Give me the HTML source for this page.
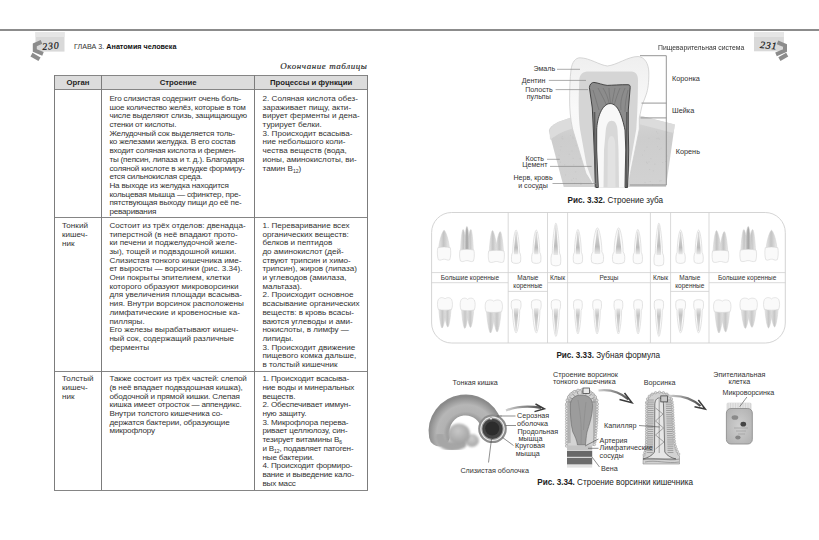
<!DOCTYPE html>
<html><head><meta charset="utf-8"><style>
html,body{margin:0;padding:0;background:#fff;}
body{width:819px;height:540px;position:relative;overflow:hidden;font-family:"Liberation Sans",sans-serif;}
.tb{position:absolute;white-space:nowrap;}
.tb sub{font-size:62%;vertical-align:-1.8px;line-height:0}
.t{position:absolute;white-space:nowrap;line-height:1}
.hd{position:absolute;text-align:center;font-weight:bold;font-size:7.75px;color:#1e1e1e;padding-top:1px;box-sizing:border-box}
</style></head><body>
<div style="position:absolute;left:54.5px;top:75.2px;width:313.0px;height:14.200000000000003px;background:#dcdcdc"></div>
<div style="position:absolute;left:53.90px;top:74.65px;width:314.20px;height:1.1px;background:#858585"></div>
<div style="position:absolute;left:53.90px;top:88.85px;width:314.20px;height:1.1px;background:#858585"></div>
<div style="position:absolute;left:53.90px;top:216.95px;width:314.20px;height:1.1px;background:#858585"></div>
<div style="position:absolute;left:53.90px;top:370.65px;width:314.20px;height:1.1px;background:#858585"></div>
<div style="position:absolute;left:53.90px;top:489.95px;width:314.20px;height:1.1px;background:#858585"></div>
<div style="position:absolute;left:53.95px;top:75.20px;width:1.1px;height:415.30px;background:#7c7c7c"></div>
<div style="position:absolute;left:100.95px;top:75.20px;width:1.1px;height:415.30px;background:#7c7c7c"></div>
<div style="position:absolute;left:254.15px;top:75.20px;width:1.1px;height:415.30px;background:#7c7c7c"></div>
<div style="position:absolute;left:366.95px;top:75.20px;width:1.1px;height:415.30px;background:#7c7c7c"></div>
<div class="hd" style="left:54.5px;width:47.0px;top:75.2px;height:14.200000000000003px;line-height:14.200000000000003px">Орган</div>
<div class="hd" style="left:101.5px;width:153.2px;top:75.2px;height:14.200000000000003px;line-height:14.200000000000003px">Строение</div>
<div class="hd" style="left:254.7px;width:112.80000000000001px;top:75.2px;height:14.200000000000003px;line-height:14.200000000000003px">Процессы и функции</div>
<div class="tb" style="left:109.4px;top:95.05px;font-size:8.1px;line-height:8.68px;color:#333333;letter-spacing:-0.185px;">
<div>Его слизистая содержит очень боль-</div>
<div>шое количество желёз, которые в том</div>
<div>числе выделяют слизь, защищающую</div>
<div>стенки от кислоты.</div>
<div>Желудочный сок выделяется толь-</div>
<div>ко железами желудка. В его состав</div>
<div>входит соляная кислота и фермен-</div>
<div>ты (пепсин, липаза и т. д.). Благодаря</div>
<div>соляной кислоте в желудке формиру-</div>
<div>ется сильнокислая среда.</div>
<div>На выходе из желудка находится</div>
<div>кольцевая мышца — сфинктер, пре-</div>
<div>пятствующая выходу пищи до её пе-</div>
<div>реваривания</div>
</div>
<div class="tb" style="left:262.6px;top:95.05px;font-size:8.1px;line-height:8.68px;color:#333333;letter-spacing:0px;">
<div>2. Соляная кислота обез-</div>
<div>зараживает пищу, акти-</div>
<div>вирует ферменты и дена-</div>
<div>турирует белки.</div>
<div>3. Происходит всасыва-</div>
<div>ние небольшого коли-</div>
<div>чества веществ (вода,</div>
<div>ионы, аминокислоты, ви-</div>
<div>тамин B<sub>12</sub>)</div>
</div>
<div class="tb" style="left:62px;top:222.15px;font-size:8.1px;line-height:8.68px;color:#333333;letter-spacing:0.02px;">
<div>Тонкий</div>
<div>кишеч-</div>
<div>ник</div>
</div>
<div class="tb" style="left:109.4px;top:221.95px;font-size:8.1px;line-height:8.68px;color:#333333;letter-spacing:0px;">
<div>Состоит из трёх отделов: двенадца-</div>
<div>типерстной (в неё впадают прото-</div>
<div>ки печени и поджелудочной желе-</div>
<div>зы), тощей и подвздошной кишки.</div>
<div>Слизистая тонкого кишечника име-</div>
<div>ет выросты — ворсинки (рис. 3.34).</div>
<div>Они покрыты эпителием, клетки</div>
<div>которого образуют микроворсинки</div>
<div>для увеличения площади всасыва-</div>
<div>ния. Внутри ворсинок расположены</div>
<div>лимфатические и кровеносные ка-</div>
<div>пилляры.</div>
<div>Его железы вырабатывают кишеч-</div>
<div>ный сок, содержащий различные</div>
<div>ферменты</div>
</div>
<div class="tb" style="left:262.4px;top:221.95px;font-size:8.1px;line-height:8.68px;color:#333333;letter-spacing:0px;">
<div>1. Переваривание всех</div>
<div>органических веществ:</div>
<div>белков и пептидов</div>
<div>до аминокислот (дей-</div>
<div>ствуют трипсин и химо-</div>
<div>трипсин), жиров (липаза)</div>
<div>и углеводов (амилаза,</div>
<div>мальтаза).</div>
<div>2. Происходит основное</div>
<div>всасывание органических</div>
<div>веществ: в кровь всасы-</div>
<div>ваются углеводы и ами-</div>
<div>нокислоты, в лимфу —</div>
<div>липиды.</div>
<div>3. Происходит движение</div>
<div>пищевого комка дальше,</div>
<div>в толстый кишечник</div>
</div>
<div class="tb" style="left:62px;top:375.35px;font-size:8.1px;line-height:8.68px;color:#333333;letter-spacing:0.02px;">
<div>Толстый</div>
<div>кишеч-</div>
<div>ник</div>
</div>
<div class="tb" style="left:109.5px;top:375.35px;font-size:8.1px;line-height:8.68px;color:#333333;letter-spacing:-0.137px;">
<div>Также состоит из трёх частей: слепой</div>
<div>(в неё впадает подвздошная кишка),</div>
<div>ободочной и прямой кишки. Слепая</div>
<div>кишка имеет отросток — аппендикс.</div>
<div>Внутри толстого кишечника со-</div>
<div>держатся бактерии, образующие</div>
<div>микрофлору</div>
</div>
<div class="tb" style="left:262.4px;top:375.35px;font-size:8.1px;line-height:8.68px;color:#333333;letter-spacing:-0.15px;">
<div>1. Происходит всасыва-</div>
<div>ние воды и минеральных</div>
<div>веществ.</div>
<div>2. Обеспечивает иммун-</div>
<div>ную защиту.</div>
<div>3. Микрофлора перева-</div>
<div>ривает целлюлозу, син-</div>
<div>тезирует витамины B<sub>6</sub></div>
<div>и B<sub>12</sub>, подавляет патоген-</div>
<div>ные бактерии.</div>
<div>4. Происходит формиро-</div>
<div>вание и выведение кало-</div>
<div>вых масс</div>
</div>
<div style="position:absolute;left:0.00px;top:29.00px;width:819.00px;height:2px;background:#8c8c8c"></div>
<div class="t" style="left:74px;top:43px;font-size:7.2px;color:#333">ГЛАВА 3. <b style="color:#111">Анатомия человека</b></div>
<div class="t" style="left:280.3px;top:62.3px;font-size:9px;letter-spacing:0.55px;font-family:'Liberation Serif';font-style:italic;color:#2a2a2a;-webkit-text-stroke:0.15px #2a2a2a">Окончание таблицы</div>
<div class="t" style="left:657.7px;top:43.7px;font-size:7.5px;color:#333;transform:scaleX(0.91);transform-origin:0 0">Пищеварительная система</div>
<svg style="position:absolute;left:0;top:0" width="819" height="540" viewBox="0 0 819 540"><defs>
<linearGradient id="gRoot" x1="0" x2="1" y1="0" y2="0"><stop offset="0" stop-color="#e8e8e8"/><stop offset="0.45" stop-color="#c4c4c4"/><stop offset="0.6" stop-color="#cdcdcd"/><stop offset="1" stop-color="#ececec"/></linearGradient>
<linearGradient id="gRootD" x1="0" x2="1" y1="0" y2="0"><stop offset="0" stop-color="#e2e2e2"/><stop offset="0.5" stop-color="#a4a4a4"/><stop offset="1" stop-color="#dedede"/></linearGradient>
<linearGradient id="gStU" x1="0" x2="0" y1="0" y2="1"><stop offset="0" stop-color="#dedede"/><stop offset="0.7" stop-color="#bcbcbc"/><stop offset="1" stop-color="#e8e8e8"/></linearGradient>
<linearGradient id="gStL" x1="0" x2="0" y1="1" y2="0"><stop offset="0" stop-color="#dedede"/><stop offset="0.7" stop-color="#c2c2c2"/><stop offset="1" stop-color="#e8e8e8"/></linearGradient>
<linearGradient id="gRootL" x1="0" x2="1" y1="0" y2="0"><stop offset="0" stop-color="#e6e6e6"/><stop offset="0.5" stop-color="#c6c6c6"/><stop offset="1" stop-color="#eaeaea"/></linearGradient>
<filter id="fT" x="-50%" y="-20%" width="200%" height="140%"><feGaussianBlur stdDeviation="0.6"/></filter>
</defs>
<rect x="431.6" y="212.5" width="353.7" height="130.5" rx="20" ry="20" fill="#fff" stroke="#cfcfcf" stroke-width="0.9"/>
<path d="M508.2,212.5 V343 M547.5,212.5 V343 M567.6,212.5 V343 M650.4,212.5 V343 M670.6,212.5 V343 M709.0,212.5 V343 M431.6,272.6 H785.3 M431.6,282.7 H508.2 M547.5,282.7 H670.6 M709,282.7 H785.3 M508.2,291.4 H547.5 M670.6,291.4 H709" stroke="#cfcfcf" stroke-width="0.8" fill="none"/>
<path d="M438.6,249.7 C439.1,239.9 442.9,230.2 444.1,230.2 C445.2,230.2 449.0,239.9 449.5,249.7 Z" fill="url(#gRoot)" stroke="#cfcfcf" stroke-width="0.5"/>
<path d="M437.8,247.7 C441.6,246.7 446.6,246.7 450.3,247.7 C451.1,251.7 450.8,256.7 449.8,259.7 C447.8,261.2 445.1,258.7 444.1,259.2 C443.1,258.7 440.3,261.2 438.3,259.7 C437.3,256.7 437.0,251.7 437.8,247.7 Z" fill="#fafafa" stroke="#d2d2d2" stroke-width="0.55"/>
<path d="M460.5,252.1 C461.0,240.8 461.9,229.5 463.1,229.5 C464.3,229.5 466.4,240.8 466.9,252.1 Z" fill="url(#gRoot)" stroke="#cfcfcf" stroke-width="0.5"/>
<path d="M466.9,252.1 C467.4,240.8 469.6,229.5 470.8,229.5 C472.0,229.5 472.9,240.8 473.4,252.1 Z" fill="url(#gRoot)" stroke="#cfcfcf" stroke-width="0.5"/>
<path d="M463.9,252.1 C464.4,239.3 465.8,226.5 466.9,226.5 C468.1,226.5 469.5,239.3 470.0,252.1 Z" fill="url(#gRootD)" stroke="#cfcfcf" stroke-width="0.5"/>
<path d="M460.0,250.1 C464.2,249.1 469.7,249.1 473.9,250.1 C474.7,254.1 474.4,258.1 473.4,261.1 C471.1,262.6 467.9,260.1 466.9,260.6 C465.9,260.1 462.8,262.6 460.5,261.1 C459.5,258.1 459.2,254.1 460.0,250.1 Z" fill="#fafafa" stroke="#d2d2d2" stroke-width="0.55"/>
<path d="M489.2,253.0 C489.7,241.8 491.3,230.6 492.5,230.6 C493.7,230.6 496.6,241.8 497.1,253.0 Z" fill="url(#gRoot)" stroke="#cfcfcf" stroke-width="0.5"/>
<path d="M495.6,253.0 C496.1,242.3 499.0,231.6 500.2,231.6 C501.4,231.6 503.0,242.3 503.5,253.0 Z" fill="url(#gRoot)" stroke="#cfcfcf" stroke-width="0.5"/>
<path d="M488.7,251.0 C493.3,250.0 499.4,250.0 504.0,251.0 C504.8,255.0 504.5,259.0 503.5,262.0 C500.9,263.5 497.4,261.0 496.4,261.5 C495.4,261.0 491.8,263.5 489.2,262.0 C488.2,259.0 487.9,255.0 488.7,251.0 Z" fill="#fafafa" stroke="#d2d2d2" stroke-width="0.55"/>
<path d="M516.1,230.0 C517.3,230.0 519.4,240.2 519.5,252.2 C520.9,254.2 521.1,258.6 520.4,262.1 C518.5,263.9 513.7,263.9 511.8,262.1 C511.1,258.6 511.3,254.2 512.7,252.2 C512.8,240.2 514.9,230.0 516.1,230.0 Z" fill="#fbfbfb" stroke="#d2d2d2" stroke-width="0.6"/>
<path d="M515.6,232.0 L516.6,232.0 C517.5,244.2 518.5,250.2 518.2,254.2 L514.0,254.2 C513.7,250.2 514.7,244.2 515.6,232.0 Z" fill="url(#gStU)" filter="url(#fT)"/>
<path d="M536.3,230.0 C537.5,230.0 539.6,240.2 539.7,252.2 C541.1,254.2 541.3,258.6 540.6,262.1 C538.7,263.9 533.9,263.9 532.0,262.1 C531.3,258.6 531.5,254.2 532.9,252.2 C533.0,240.2 535.1,230.0 536.3,230.0 Z" fill="#fbfbfb" stroke="#d2d2d2" stroke-width="0.6"/>
<path d="M535.8,232.0 L536.8,232.0 C537.7,244.2 538.7,250.2 538.4,254.2 L534.2,254.2 C533.9,250.2 534.9,244.2 535.8,232.0 Z" fill="url(#gStU)" filter="url(#fT)"/>
<path d="M555.9,223.1 C557.1,223.1 559.4,241.0 559.5,253.0 C561.0,255.0 561.1,261.0 560.4,264.5 C558.4,266.3 553.4,266.3 551.4,264.5 C550.6,261.0 550.8,255.0 552.3,253.0 C552.4,241.0 554.6,223.1 555.9,223.1 Z" fill="#fbfbfb" stroke="#d2d2d2" stroke-width="0.6"/>
<path d="M555.4,225.1 L556.4,225.1 C557.4,245.0 558.4,251.0 558.1,255.0 L553.6,255.0 C553.4,251.0 554.4,245.0 555.4,225.1 Z" fill="url(#gStU)" filter="url(#fT)"/>
<path d="M577.9,229.4 C579.1,229.4 581.2,240.2 581.3,252.2 C582.7,254.2 582.9,258.9 582.2,262.4 C580.3,264.2 575.5,264.2 573.6,262.4 C572.9,258.9 573.1,254.2 574.5,252.2 C574.6,240.2 576.7,229.4 577.9,229.4 Z" fill="#fbfbfb" stroke="#d2d2d2" stroke-width="0.6"/>
<path d="M577.4,231.4 L578.4,231.4 C579.3,244.2 580.3,250.2 580.0,254.2 L575.8,254.2 C575.5,250.2 576.5,244.2 577.4,231.4 Z" fill="url(#gStU)" filter="url(#fT)"/>
<path d="M597.4,227.8 C599.0,227.8 601.8,239.9 601.9,251.9 C603.8,253.9 604.0,258.9 603.0,262.4 C600.5,264.2 594.3,264.2 591.8,262.4 C590.8,258.9 591.0,253.9 592.9,251.9 C593.0,239.9 595.8,227.8 597.4,227.8 Z" fill="#fbfbfb" stroke="#d2d2d2" stroke-width="0.6"/>
<path d="M596.9,229.8 L597.9,229.8 C599.3,243.9 600.5,249.9 600.2,253.9 L594.6,253.9 C594.3,249.9 595.5,243.9 596.9,229.8 Z" fill="url(#gStU)" filter="url(#fT)"/>
<path d="M618.6,227.8 C620.2,227.8 623.0,239.9 623.1,251.9 C625.0,253.9 625.2,258.9 624.2,262.4 C621.7,264.2 615.5,264.2 613.0,262.4 C612.0,258.9 612.2,253.9 614.1,251.9 C614.2,239.9 617.0,227.8 618.6,227.8 Z" fill="#fbfbfb" stroke="#d2d2d2" stroke-width="0.6"/>
<path d="M618.1,229.8 L619.1,229.8 C620.5,243.9 621.7,249.9 621.4,253.9 L615.8,253.9 C615.5,249.9 616.7,243.9 618.1,229.8 Z" fill="url(#gStU)" filter="url(#fT)"/>
<path d="M637.8,229.4 C639.0,229.4 641.1,240.2 641.2,252.2 C642.6,254.2 642.8,258.9 642.1,262.4 C640.2,264.2 635.4,264.2 633.5,262.4 C632.8,258.9 633.0,254.2 634.4,252.2 C634.5,240.2 636.6,229.4 637.8,229.4 Z" fill="#fbfbfb" stroke="#d2d2d2" stroke-width="0.6"/>
<path d="M637.3,231.4 L638.3,231.4 C639.2,244.2 640.2,250.2 639.9,254.2 L635.7,254.2 C635.4,250.2 636.4,244.2 637.3,231.4 Z" fill="url(#gStU)" filter="url(#fT)"/>
<path d="M658.9,223.1 C660.1,223.1 662.4,241.0 662.5,253.0 C664.0,255.0 664.1,261.0 663.4,264.5 C661.4,266.3 656.4,266.3 654.4,264.5 C653.6,261.0 653.8,255.0 655.3,253.0 C655.4,241.0 657.6,223.1 658.9,223.1 Z" fill="#fbfbfb" stroke="#d2d2d2" stroke-width="0.6"/>
<path d="M658.4,225.1 L659.4,225.1 C660.4,245.0 661.4,251.0 661.1,255.0 L656.6,255.0 C656.4,251.0 657.4,245.0 658.4,225.1 Z" fill="url(#gStU)" filter="url(#fT)"/>
<path d="M680.6,230.0 C681.8,230.0 683.9,240.2 684.0,252.2 C685.4,254.2 685.6,258.6 684.9,262.1 C683.0,263.9 678.2,263.9 676.3,262.1 C675.6,258.6 675.8,254.2 677.2,252.2 C677.3,240.2 679.4,230.0 680.6,230.0 Z" fill="#fbfbfb" stroke="#d2d2d2" stroke-width="0.6"/>
<path d="M680.1,232.0 L681.1,232.0 C682.0,244.2 683.0,250.2 682.7,254.2 L678.5,254.2 C678.2,250.2 679.2,244.2 680.1,232.0 Z" fill="url(#gStU)" filter="url(#fT)"/>
<path d="M698.6,230.0 C699.8,230.0 701.9,240.2 702.0,252.2 C703.4,254.2 703.6,258.6 702.9,262.1 C701.0,263.9 696.2,263.9 694.3,262.1 C693.6,258.6 693.8,254.2 695.2,252.2 C695.3,240.2 697.4,230.0 698.6,230.0 Z" fill="#fbfbfb" stroke="#d2d2d2" stroke-width="0.6"/>
<path d="M698.1,232.0 L699.1,232.0 C700.0,244.2 701.0,250.2 700.7,254.2 L696.5,254.2 C696.2,250.2 697.2,244.2 698.1,232.0 Z" fill="url(#gStU)" filter="url(#fT)"/>
<path d="M713.0,253.0 C713.5,241.8 715.2,230.6 716.5,230.6 C717.7,230.6 720.7,241.8 721.2,253.0 Z" fill="url(#gRoot)" stroke="#cfcfcf" stroke-width="0.5"/>
<path d="M719.6,253.0 C720.1,242.3 723.1,231.6 724.3,231.6 C725.5,231.6 727.3,242.3 727.8,253.0 Z" fill="url(#gRoot)" stroke="#cfcfcf" stroke-width="0.5"/>
<path d="M712.5,251.0 C717.2,250.0 723.6,250.0 728.3,251.0 C729.1,255.0 728.8,259.0 727.8,262.0 C725.1,263.5 721.4,261.0 720.4,261.5 C719.4,261.0 715.7,263.5 713.0,262.0 C712.0,259.0 711.7,255.0 712.5,251.0 Z" fill="#fafafa" stroke="#d2d2d2" stroke-width="0.55"/>
<path d="M740.8,252.1 C741.3,240.8 742.6,229.5 743.8,229.5 C745.0,229.5 747.7,240.8 748.2,252.1 Z" fill="url(#gRoot)" stroke="#cfcfcf" stroke-width="0.5"/>
<path d="M748.2,252.1 C748.7,240.8 751.4,229.5 752.6,229.5 C753.8,229.5 755.1,240.8 755.6,252.1 Z" fill="url(#gRoot)" stroke="#cfcfcf" stroke-width="0.5"/>
<path d="M744.7,252.1 C745.2,239.3 747.0,226.5 748.2,226.5 C749.4,226.5 751.2,239.3 751.7,252.1 Z" fill="url(#gRootD)" stroke="#cfcfcf" stroke-width="0.5"/>
<path d="M740.3,250.1 C745.0,249.1 751.4,249.1 756.1,250.1 C756.9,254.1 756.6,258.1 755.6,261.1 C752.9,262.6 749.2,260.1 748.2,260.6 C747.2,260.1 743.5,262.6 740.8,261.1 C739.8,258.1 739.5,254.1 740.3,250.1 Z" fill="#fafafa" stroke="#d2d2d2" stroke-width="0.55"/>
<path d="M766.1,249.7 C766.6,239.9 770.3,230.2 771.5,230.2 C772.8,230.2 776.5,239.9 777.0,249.7 Z" fill="url(#gRoot)" stroke="#cfcfcf" stroke-width="0.5"/>
<path d="M765.3,247.7 C769.0,246.7 774.0,246.7 777.8,247.7 C778.6,251.7 778.3,256.7 777.3,259.7 C775.3,261.2 772.5,258.7 771.5,259.2 C770.5,258.7 767.8,261.2 765.8,259.7 C764.8,256.7 764.5,251.7 765.3,247.7 Z" fill="#fafafa" stroke="#d2d2d2" stroke-width="0.55"/>
<path d="M438.8,307.4 C439.3,317.7 440.9,328.0 442.1,328.0 C443.3,328.0 445.5,317.7 446.0,307.4 Z" fill="url(#gRootL)" stroke="#cfcfcf" stroke-width="0.5"/>
<path d="M444.0,307.4 C444.5,317.2 446.6,327.0 447.8,327.0 C449.0,327.0 450.6,317.2 451.1,307.4 Z" fill="url(#gRootL)" stroke="#cfcfcf" stroke-width="0.5"/>
<path d="M438.3,299.4 C440.7,296.4 444.0,297.9 445.0,298.9 C446.0,297.9 449.2,296.4 451.6,299.4 C452.9,302.4 452.6,306.4 451.6,309.4 C447.8,310.4 442.1,310.4 438.3,309.4 C437.3,306.4 437.0,302.4 438.3,299.4 Z" fill="#fafafa" stroke="#d2d2d2" stroke-width="0.55"/>
<path d="M461.5,307.9 C462.0,318.1 463.6,328.4 464.8,328.4 C466.0,328.4 468.1,318.1 468.6,307.9 Z" fill="url(#gRootL)" stroke="#cfcfcf" stroke-width="0.5"/>
<path d="M466.6,307.9 C467.1,317.6 469.3,327.4 470.5,327.4 C471.7,327.4 473.3,317.6 473.8,307.9 Z" fill="url(#gRootL)" stroke="#cfcfcf" stroke-width="0.5"/>
<path d="M461.0,299.9 C463.4,296.9 466.6,298.4 467.6,299.4 C468.6,298.4 471.9,296.9 474.3,299.9 C475.6,302.9 475.3,306.9 474.3,309.9 C470.5,310.9 464.8,310.9 461.0,309.9 C460.0,306.9 459.7,302.9 461.0,299.9 Z" fill="#fafafa" stroke="#d2d2d2" stroke-width="0.55"/>
<path d="M486.5,309.7 C487.0,321.4 489.3,333.0 490.5,333.0 C491.7,333.0 494.3,321.4 494.8,309.7 Z" fill="url(#gRootL)" stroke="#cfcfcf" stroke-width="0.5"/>
<path d="M492.8,309.7 C493.3,320.9 495.9,332.0 497.1,332.0 C498.3,332.0 500.6,320.9 501.1,309.7 Z" fill="url(#gRootL)" stroke="#cfcfcf" stroke-width="0.5"/>
<path d="M486.0,301.7 C488.8,298.7 492.8,300.2 493.8,301.2 C494.8,300.2 498.8,298.7 501.6,301.7 C502.9,304.7 502.6,308.7 501.6,311.7 C497.1,312.7 490.5,312.7 486.0,311.7 C485.0,308.7 484.7,304.7 486.0,301.7 Z" fill="#fafafa" stroke="#d2d2d2" stroke-width="0.55"/>
<path d="M516.1,333.0 C517.4,333.0 519.6,322.2 519.7,310.2 C521.2,308.2 521.4,304.5 520.6,301.0 C518.6,299.2 513.6,299.2 511.6,301.0 C510.9,304.5 511.0,308.2 512.5,310.2 C512.6,322.2 514.9,333.0 516.1,333.0 Z" fill="#fbfbfb" stroke="#d2d2d2" stroke-width="0.6"/>
<path d="M515.6,331.0 L516.6,331.0 C517.6,318.2 518.6,312.2 518.4,308.2 L513.9,308.2 C513.6,312.2 514.6,318.2 515.6,331.0 Z" fill="url(#gStL)" filter="url(#fT)"/>
<path d="M536.3,333.0 C537.5,333.0 539.8,322.2 539.9,310.2 C541.4,308.2 541.5,304.5 540.8,301.0 C538.8,299.2 533.8,299.2 531.8,301.0 C531.0,304.5 531.2,308.2 532.7,310.2 C532.8,322.2 535.0,333.0 536.3,333.0 Z" fill="#fbfbfb" stroke="#d2d2d2" stroke-width="0.6"/>
<path d="M535.8,331.0 L536.8,331.0 C537.8,318.2 538.8,312.2 538.5,308.2 L534.0,308.2 C533.8,312.2 534.8,318.2 535.8,331.0 Z" fill="url(#gStL)" filter="url(#fT)"/>
<path d="M555.9,336.5 C557.1,336.5 559.2,322.5 559.3,310.5 C560.7,308.5 560.9,304.5 560.2,301.0 C558.3,299.2 553.5,299.2 551.6,301.0 C550.9,304.5 551.1,308.5 552.5,310.5 C552.6,322.5 554.7,336.5 555.9,336.5 Z" fill="#fbfbfb" stroke="#d2d2d2" stroke-width="0.6"/>
<path d="M555.4,334.5 L556.4,334.5 C557.3,318.5 558.3,312.5 558.0,308.5 L553.8,308.5 C553.5,312.5 554.5,318.5 555.4,334.5 Z" fill="url(#gStL)" filter="url(#fT)"/>
<path d="M577.9,334.0 C579.0,334.0 581.0,322.5 581.1,310.5 C582.5,308.5 582.6,304.5 581.9,301.0 C580.1,299.2 575.6,299.2 573.9,301.0 C573.2,304.5 573.3,308.5 574.7,310.5 C574.8,322.5 576.8,334.0 577.9,334.0 Z" fill="#fbfbfb" stroke="#d2d2d2" stroke-width="0.6"/>
<path d="M577.4,332.0 L578.4,332.0 C579.2,318.5 580.1,312.5 579.9,308.5 L575.9,308.5 C575.6,312.5 576.5,318.5 577.4,332.0 Z" fill="url(#gStL)" filter="url(#fT)"/>
<path d="M597.1,334.0 C598.2,334.0 600.2,322.5 600.3,310.5 C601.7,308.5 601.8,304.5 601.1,301.0 C599.4,299.2 594.9,299.2 593.1,301.0 C592.4,304.5 592.5,308.5 593.9,310.5 C594.0,322.5 596.0,334.0 597.1,334.0 Z" fill="#fbfbfb" stroke="#d2d2d2" stroke-width="0.6"/>
<path d="M596.6,332.0 L597.6,332.0 C598.5,318.5 599.4,312.5 599.1,308.5 L595.1,308.5 C594.9,312.5 595.8,318.5 596.6,332.0 Z" fill="url(#gStL)" filter="url(#fT)"/>
<path d="M618.4,334.0 C619.5,334.0 621.5,322.5 621.6,310.5 C623.0,308.5 623.1,304.5 622.4,301.0 C620.6,299.2 616.1,299.2 614.4,301.0 C613.7,304.5 613.8,308.5 615.2,310.5 C615.2,322.5 617.3,334.0 618.4,334.0 Z" fill="#fbfbfb" stroke="#d2d2d2" stroke-width="0.6"/>
<path d="M617.9,332.0 L618.9,332.0 C619.8,318.5 620.6,312.5 620.4,308.5 L616.4,308.5 C616.1,312.5 617.0,318.5 617.9,332.0 Z" fill="url(#gStL)" filter="url(#fT)"/>
<path d="M638.1,334.0 C639.2,334.0 641.2,322.5 641.3,310.5 C642.7,308.5 642.8,304.5 642.1,301.0 C640.4,299.2 635.9,299.2 634.1,301.0 C633.4,304.5 633.5,308.5 634.9,310.5 C635.0,322.5 637.0,334.0 638.1,334.0 Z" fill="#fbfbfb" stroke="#d2d2d2" stroke-width="0.6"/>
<path d="M637.6,332.0 L638.6,332.0 C639.5,318.5 640.4,312.5 640.1,308.5 L636.1,308.5 C635.9,312.5 636.8,318.5 637.6,332.0 Z" fill="url(#gStL)" filter="url(#fT)"/>
<path d="M658.9,336.5 C660.1,336.5 662.2,322.5 662.3,310.5 C663.7,308.5 663.9,304.5 663.2,301.0 C661.3,299.2 656.5,299.2 654.6,301.0 C653.9,304.5 654.1,308.5 655.5,310.5 C655.6,322.5 657.7,336.5 658.9,336.5 Z" fill="#fbfbfb" stroke="#d2d2d2" stroke-width="0.6"/>
<path d="M658.4,334.5 L659.4,334.5 C660.3,318.5 661.3,312.5 661.0,308.5 L656.8,308.5 C656.5,312.5 657.5,318.5 658.4,334.5 Z" fill="url(#gStL)" filter="url(#fT)"/>
<path d="M680.6,333.0 C681.9,333.0 684.1,322.2 684.2,310.2 C685.7,308.2 685.9,304.5 685.1,301.0 C683.1,299.2 678.1,299.2 676.1,301.0 C675.4,304.5 675.5,308.2 677.0,310.2 C677.1,322.2 679.4,333.0 680.6,333.0 Z" fill="#fbfbfb" stroke="#d2d2d2" stroke-width="0.6"/>
<path d="M680.1,331.0 L681.1,331.0 C682.1,318.2 683.1,312.2 682.9,308.2 L678.4,308.2 C678.1,312.2 679.1,318.2 680.1,331.0 Z" fill="url(#gStL)" filter="url(#fT)"/>
<path d="M698.6,333.0 C699.9,333.0 702.1,322.2 702.2,310.2 C703.7,308.2 703.9,304.5 703.1,301.0 C701.1,299.2 696.1,299.2 694.1,301.0 C693.4,304.5 693.5,308.2 695.0,310.2 C695.1,322.2 697.4,333.0 698.6,333.0 Z" fill="#fbfbfb" stroke="#d2d2d2" stroke-width="0.6"/>
<path d="M698.1,331.0 L699.1,331.0 C700.1,318.2 701.1,312.2 700.9,308.2 L696.4,308.2 C696.1,312.2 697.1,318.2 698.1,331.0 Z" fill="url(#gStL)" filter="url(#fT)"/>
<path d="M714.9,309.7 C715.4,321.4 717.7,333.0 718.9,333.0 C720.1,333.0 722.8,321.4 723.2,309.7 Z" fill="url(#gRootL)" stroke="#cfcfcf" stroke-width="0.5"/>
<path d="M721.2,309.7 C721.8,320.9 724.4,332.0 725.6,332.0 C726.8,332.0 729.1,320.9 729.6,309.7 Z" fill="url(#gRootL)" stroke="#cfcfcf" stroke-width="0.5"/>
<path d="M714.4,301.7 C717.2,298.7 721.2,300.2 722.2,301.2 C723.2,300.2 727.3,298.7 730.1,301.7 C731.4,304.7 731.1,308.7 730.1,311.7 C725.6,312.7 718.9,312.7 714.4,311.7 C713.4,308.7 713.1,304.7 714.4,301.7 Z" fill="#fafafa" stroke="#d2d2d2" stroke-width="0.55"/>
<path d="M741.3,307.9 C741.8,318.1 744.1,328.4 745.3,328.4 C746.5,328.4 749.1,318.1 749.6,307.9 Z" fill="url(#gRootL)" stroke="#cfcfcf" stroke-width="0.5"/>
<path d="M747.6,307.9 C748.1,317.6 750.8,327.4 752.0,327.4 C753.2,327.4 755.5,317.6 756.0,307.9 Z" fill="url(#gRootL)" stroke="#cfcfcf" stroke-width="0.5"/>
<path d="M740.8,299.9 C743.6,296.9 747.6,298.4 748.6,299.4 C749.6,298.4 753.7,296.9 756.5,299.9 C757.8,302.9 757.5,306.9 756.5,309.9 C752.0,310.9 745.3,310.9 740.8,309.9 C739.8,306.9 739.5,302.9 740.8,299.9 Z" fill="#fafafa" stroke="#d2d2d2" stroke-width="0.55"/>
<path d="M764.9,307.4 C765.4,317.7 767.3,328.0 768.5,328.0 C769.7,328.0 772.0,317.7 772.5,307.4 Z" fill="url(#gRootL)" stroke="#cfcfcf" stroke-width="0.5"/>
<path d="M770.5,307.4 C771.0,317.2 773.4,327.0 774.6,327.0 C775.8,327.0 777.7,317.2 778.2,307.4 Z" fill="url(#gRootL)" stroke="#cfcfcf" stroke-width="0.5"/>
<path d="M764.4,299.4 C767.0,296.4 770.5,297.9 771.5,298.9 C772.5,297.9 776.1,296.4 778.7,299.4 C780.0,302.4 779.7,306.4 778.7,309.4 C774.6,310.4 768.5,310.4 764.4,309.4 C763.4,306.4 763.1,302.4 764.4,299.4 Z" fill="#fafafa" stroke="#d2d2d2" stroke-width="0.55"/><defs>
<linearGradient id="gBone" x1="0" x2="0" y1="0" y2="1"><stop offset="0" stop-color="#d6d6d6"/><stop offset="0.3" stop-color="#cdcdcd"/><stop offset="1" stop-color="#d2d2d2"/></linearGradient>
<linearGradient id="gPulp" x1="0" x2="1" y1="0" y2="0"><stop offset="0" stop-color="#3a3a3a"/><stop offset="0.1" stop-color="#5e5e5e"/><stop offset="0.5" stop-color="#8a8a8a"/><stop offset="0.9" stop-color="#5e5e5e"/><stop offset="1" stop-color="#3a3a3a"/></linearGradient>
<linearGradient id="gEnamel" x1="0" x2="0" y1="0" y2="1"><stop offset="0" stop-color="#efefef"/><stop offset="0.4" stop-color="#f9f9f9"/><stop offset="1" stop-color="#f6f6f6"/></linearGradient>
</defs>
<path d="M548.9,131 C549,128 552,125 558,122 L571,117.6 L594,187 L563.7,187 Z" fill="url(#gBone)"/>
<path d="M639.3,115.6 L674.8,124.4 L666,187 L628,187 Z" fill="url(#gBone)"/>
<path d="M549.5,131 C550,128 553,125 558,122 L571,117.6 L574.5,128 C566,130 557,134 550,140 Z" fill="#dcdcdc"/>
<path d="M639.3,115.6 L674.8,124.4 L673.6,133 L638.5,124 Z" fill="#dcdcdc"/>
<path d="M559.9,162.2 h0.9 M646.8,163.2 h0.9 M572.6,138.3 h0.9 M560.6,146.7 h0.9 M579.6,158.8 h0.9 M657.6,138.3 h0.9 M573.0,178.4 h0.9 M652.9,170.8 h0.9 M662.3,162.5 h0.9 M561.9,136.6 h0.9 M666.6,156.0 h0.9 M575.7,178.9 h0.9 M660.6,180.7 h0.9 M565.0,175.0 h0.9 M649.8,181.5 h0.9 M657.1,146.6 h0.9 M568.7,154.3 h0.9 M646.0,162.2 h0.9 M571.3,180.2 h0.9 M659.3,181.1 h0.9 M580.3,184.5 h0.9 M658.9,139.0 h0.9 M580.4,183.2 h0.9 M575.6,145.6 h0.9 M665.3,161.5 h0.9 M561.4,138.2 h0.9 M648.4,138.3 h0.9 M666.9,132.4 h0.9 M572.3,137.2 h0.9 M660.7,148.2 h0.9 M581.1,184.0 h0.9 M652.2,184.9 h0.9 M562.2,138.8 h0.9 M656.0,131.7 h0.9 M558.5,155.4 h0.9 M656.4,138.6 h0.9 M644.6,182.7 h0.9 M650.4,158.6 h0.9 M573.2,164.8 h0.9 M654.4,164.1 h0.9 M649.2,169.6 h0.9 M559.8,150.1 h0.9 M570.1,135.6 h0.9 M648.6,161.9 h0.9 M657.3,133.3 h0.9 M572.7,158.3 h0.9 M659.2,149.4 h0.9 M575.3,171.9 h0.9 M574.3,183.2 h0.9 M642.0,155.1 h0.9 M571.6,151.0 h0.9 M646.6,147.2 h0.9 M564.2,164.8 h0.9 M644.0,150.7 h0.9" stroke="#c4c4c4" stroke-width="0.9" fill="none"/>
<path d="M594.5,187.2 L585.9,173.3 L572.6,129 C570.5,120 569.5,108 569.6,99 C569.7,88 570,78 571,70 C572,62 575.5,57.8 580,57.8 C590,58 599,65 607.4,66 C617,65 628,56.5 638,56.5 C645,57 648.5,64 648.8,72 C649,82 648,90 646,95 C644,101 642.2,104 641.5,108 L639.3,118 L639.3,129 L630.4,173.3 L628,187.2 Z" fill="url(#gEnamel)" stroke="#cdcdcd" stroke-width="0.8"/>
<path d="M594.5,187 L586.5,165 L580,129 C578.5,118 578.5,100 579,88 L579.3,80 C579.5,74 583,71.5 589,71.5 L630,71.5 C635.5,71.5 638,74 638,80 L637.8,95 C637.5,108 637,118 636.3,129 L629.5,168 L627.5,187 Z" fill="#d5d5d5"/>
<path d="M598.4,187.5 L597.5,170 L596.7,150 L596.7,130 C597,118 602,103.6 610.2,103.6 C618,103.6 622,116 625,130 L625.8,150 L625.3,170 L625,187.5 Z" fill="#f8f8f8"/>
<path d="M603.5,187.5 L604,150 L605.8,130 C606.5,124 608.5,120.8 611.7,120.8 C615,120.8 617,124 617.5,130 L618.5,150 L619,187.5 Z" fill="#d8d8d8"/>
<path d="M607.5,187.5 L607.8,145 C608,139 609.5,136 611.5,136 C613.5,136 615,139 615.2,145 L615.5,187.5 Z" fill="#e2e2e2"/>
<path d="M589.4,87.6 C589.6,84.5 591.5,82.4 593.9,82.4 C598,82.8 603,85 607.2,85.4 C613,85.2 620,84.6 628,84.7 C629.8,84.8 630.4,85.8 630.2,87.5 L628.3,110 L628.3,130 L628.7,150 L628.3,170 L627.5,187.5 L625,187.5 L625.3,170 L625.8,150 L625,130 C622,116 618,103.6 610.2,103.6 C602,103.6 597,118 596.7,130 L596.7,150 L597.5,170 L598.3,187.5 L595.8,187.5 L595,170 L594.2,150 L593.3,129 L592.3,108 Z" fill="#8c8c8c" stroke="#383838" stroke-width="0.9"/>
<path d="M593,90 C595,96 597,104 599,110 M598,88 C601,94 604,99 606,104 M603,88 C606,93 608,98 609,103 M609,88 C609,93 610,98 610.5,103 M615,88 C614,93 613,98 612,103 M620,88 C618,93 616,98 614.5,104 M625,88 C622,95 620,102 621,110 M628,90 C626,98 625,104 625,112" stroke="#6e6e6e" stroke-width="0.6" fill="none"/>
<path d="M594.5,112 L595.5,187 M626.8,112 L626.3,187" stroke="#5a5a5a" stroke-width="1.6" fill="none"/>
<path d="M666.3,55.7 V185 M640,55.7 H666.3 M641.5,103.1 H666.3 M640.5,117.9 H666.3 M629.8,185 H666.3" stroke="#8a8a8a" stroke-width="0.9" fill="none"/>
<path d="M557,69.3 H580 M548.8,80.4 H586 M555.6,89.6 H588 M547,159.3 H559.8 M550,166.4 H591.6 M552.5,183.5 H596.5" stroke="#8a8a8a" stroke-width="0.7" fill="none"/><defs>
<radialGradient id="gTube" cx="466" cy="434" r="37.5" gradientUnits="userSpaceOnUse"><stop offset="0.42" stop-color="#8c8c8c"/><stop offset="0.6" stop-color="#b2b2b2"/><stop offset="0.78" stop-color="#b6b6b6"/><stop offset="1" stop-color="#8a8a8a"/></radialGradient>
<radialGradient id="gLump" cx="0.45" cy="0.35" r="0.65"><stop offset="0" stop-color="#c8c8c8"/><stop offset="0.8" stop-color="#a8a8a8"/><stop offset="1" stop-color="#a0a0a0"/></radialGradient>
<radialGradient id="gLumpF" cx="0.5" cy="0.3" r="0.7"><stop offset="0" stop-color="#c4c4c4"/><stop offset="1" stop-color="#e6e6e6"/></radialGradient>
<linearGradient id="gArr1" x1="506" x2="546" y1="0" y2="0" gradientUnits="userSpaceOnUse"><stop offset="0" stop-color="#d0d0d0"/><stop offset="1" stop-color="#3a3a3a"/></linearGradient>
<linearGradient id="gArr2" x1="598" x2="634" y1="0" y2="0" gradientUnits="userSpaceOnUse"><stop offset="0" stop-color="#d0d0d0"/><stop offset="1" stop-color="#3a3a3a"/></linearGradient>
<linearGradient id="gArr3" x1="669" x2="704" y1="0" y2="0" gradientUnits="userSpaceOnUse"><stop offset="0" stop-color="#d0d0d0"/><stop offset="1" stop-color="#3a3a3a"/></linearGradient>
<filter id="fSoft" x="-30%" y="-30%" width="160%" height="160%"><feGaussianBlur stdDeviation="0.9"/></filter>
<radialGradient id="gCell" cx="0.5" cy="0.5" r="0.6"><stop offset="0" stop-color="#cfcfcf"/><stop offset="1" stop-color="#b4b4b4"/></radialGradient>
</defs>
<ellipse cx="453" cy="443" rx="12" ry="5.5" fill="url(#gLumpF)" filter="url(#fSoft)"/>
<path d="M439.5,436 A26.5,26.5 0 1,1 492,429.1" stroke="url(#gTube)" stroke-width="21" stroke-linecap="round" fill="none"/>
<ellipse cx="472" cy="440.5" rx="7" ry="6.5" fill="url(#gLump)" filter="url(#fSoft)" opacity="0.9"/>
<path d="M440,437 C441,446 452,449 462,444" stroke="#a6a6a6" stroke-width="9" stroke-linecap="round" fill="none" filter="url(#fSoft)"/>
<ellipse cx="459" cy="434" rx="11" ry="10.5" fill="url(#gLump)" filter="url(#fSoft)"/>
<circle cx="492.5" cy="428.8" r="14.3" fill="#8c8c8c"/>
<circle cx="492.5" cy="428.8" r="12.2" fill="#eeeeee"/>
<circle cx="492.5" cy="428.8" r="11.1" fill="#9a9a9a"/>
<circle cx="492.5" cy="428.8" r="10.1" fill="#444"/>
<circle cx="492.2" cy="428.5" r="7" fill="#2c2c2c"/>
<circle cx="491" cy="418.5" r="1.3" fill="#eee" stroke="#555" stroke-width="0.4"/>
<path d="M497,416 L503,416 L515.5,416 M505.5,425.5 H516 M502.5,437.5 L513.5,445.5 M491.5,439 L488.5,462.5" stroke="#444" stroke-width="0.6" fill="none"/>
<path d="M502,416 L496,416" stroke="#777" stroke-width="0.6"/>
<path d="M506,410.5 C516,406.5 530,406 541,407.8" stroke="url(#gArr1)" stroke-width="2.4" fill="none"/>
<path d="M535.5,404 L544.3,408.8 L534.5,411.6" stroke="#3a3a3a" stroke-width="1.5" fill="none"/>
<path d="M566.4,446 L566.4,404 C566.4,393.5 573,389.6 582,389.6 C591,389.6 597.4,393.5 597.4,404 C597.4,420 596,434 594,446 Z" fill="#d4d4d4"/>
<path d="M567.5,400.0 h3.2 M596.2,400.0 h-3.2 M567.5,402.0 h3.2 M596.2,402.0 h-3.2 M567.5,404.0 h3.2 M596.2,404.0 h-3.2 M567.5,406.0 h3.2 M596.2,406.0 h-3.2 M567.5,408.0 h3.2 M596.2,408.0 h-3.2 M567.5,410.0 h3.2 M596.2,410.0 h-3.2 M567.5,412.0 h3.2 M596.2,412.0 h-3.2 M567.5,414.0 h3.2 M596.2,414.0 h-3.2 M567.5,416.0 h3.2 M596.2,416.0 h-3.2 M567.5,418.0 h3.2 M596.2,418.0 h-3.2 M567.5,420.0 h3.2 M596.2,420.0 h-3.2 M567.5,422.0 h3.2 M596.2,422.0 h-3.2 M567.5,424.0 h3.2 M596.2,424.0 h-3.2 M567.5,426.0 h3.2 M596.2,426.0 h-3.2 M567.5,428.0 h3.2 M596.2,428.0 h-3.2 M567.5,430.0 h3.2 M596.2,430.0 h-3.2 M567.5,432.0 h3.2 M596.2,432.0 h-3.2 M567.5,434.0 h3.2 M596.2,434.0 h-3.2 M567.5,436.0 h3.2 M596.2,436.0 h-3.2 M567.5,438.0 h3.2 M596.2,438.0 h-3.2 M567.5,440.0 h3.2 M596.2,440.0 h-3.2 M567.5,442.0 h3.2 M596.2,442.0 h-3.2 M568.5,402.0 L572.0,402.0 M569.5,397.6 L572.8,398.9 M572.5,393.9 L574.9,396.3 M576.8,391.4 L578.2,394.6 M582.0,390.5 L582.0,394.0 M587.2,391.4 L585.8,394.6 M591.5,393.9 L589.1,396.3 M594.5,397.6 L591.2,398.9 M595.5,402.0 L592.0,402.0" stroke="#8a8a8a" stroke-width="0.9" fill="none"/>
<path d="M566.4,446 L566.4,404 C566.4,393.5 573,389.6 582,389.6 C591,389.6 597.4,393.5 597.4,404 C597.4,420 596,434 594,446" stroke="#888" stroke-width="0.6" fill="none"/>
<circle cx="566.6" cy="446.0" r="1.25" fill="#e2e2e2" stroke="#8a8a8a" stroke-width="0.45"/><circle cx="566.6" cy="443.3" r="1.25" fill="#e2e2e2" stroke="#8a8a8a" stroke-width="0.45"/><circle cx="566.6" cy="440.6" r="1.25" fill="#e2e2e2" stroke="#8a8a8a" stroke-width="0.45"/><circle cx="566.6" cy="437.9" r="1.25" fill="#e2e2e2" stroke="#8a8a8a" stroke-width="0.45"/><circle cx="566.6" cy="435.2" r="1.25" fill="#e2e2e2" stroke="#8a8a8a" stroke-width="0.45"/><circle cx="566.6" cy="432.5" r="1.25" fill="#e2e2e2" stroke="#8a8a8a" stroke-width="0.45"/><circle cx="566.6" cy="429.8" r="1.25" fill="#e2e2e2" stroke="#8a8a8a" stroke-width="0.45"/><circle cx="566.6" cy="427.1" r="1.25" fill="#e2e2e2" stroke="#8a8a8a" stroke-width="0.45"/><circle cx="566.6" cy="424.4" r="1.25" fill="#e2e2e2" stroke="#8a8a8a" stroke-width="0.45"/><circle cx="566.6" cy="421.7" r="1.25" fill="#e2e2e2" stroke="#8a8a8a" stroke-width="0.45"/><circle cx="566.6" cy="419.0" r="1.25" fill="#e2e2e2" stroke="#8a8a8a" stroke-width="0.45"/><circle cx="566.6" cy="416.3" r="1.25" fill="#e2e2e2" stroke="#8a8a8a" stroke-width="0.45"/><circle cx="566.6" cy="413.6" r="1.25" fill="#e2e2e2" stroke="#8a8a8a" stroke-width="0.45"/><circle cx="566.6" cy="410.9" r="1.25" fill="#e2e2e2" stroke="#8a8a8a" stroke-width="0.45"/><circle cx="566.6" cy="408.2" r="1.25" fill="#e2e2e2" stroke="#8a8a8a" stroke-width="0.45"/><circle cx="566.6" cy="405.5" r="1.25" fill="#e2e2e2" stroke="#8a8a8a" stroke-width="0.45"/><circle cx="566.6" cy="404.0" r="1.25" fill="#e2e2e2" stroke="#8a8a8a" stroke-width="0.45"/><circle cx="567.1" cy="400.3" r="1.25" fill="#e2e2e2" stroke="#8a8a8a" stroke-width="0.45"/><circle cx="568.7" cy="396.9" r="1.25" fill="#e2e2e2" stroke="#8a8a8a" stroke-width="0.45"/><circle cx="571.1" cy="394.0" r="1.25" fill="#e2e2e2" stroke="#8a8a8a" stroke-width="0.45"/><circle cx="574.3" cy="391.7" r="1.25" fill="#e2e2e2" stroke="#8a8a8a" stroke-width="0.45"/><circle cx="578.0" cy="390.3" r="1.25" fill="#e2e2e2" stroke="#8a8a8a" stroke-width="0.45"/><circle cx="582.0" cy="389.8" r="1.25" fill="#e2e2e2" stroke="#8a8a8a" stroke-width="0.45"/><circle cx="586.0" cy="390.3" r="1.25" fill="#e2e2e2" stroke="#8a8a8a" stroke-width="0.45"/><circle cx="589.7" cy="391.7" r="1.25" fill="#e2e2e2" stroke="#8a8a8a" stroke-width="0.45"/><circle cx="592.9" cy="394.0" r="1.25" fill="#e2e2e2" stroke="#8a8a8a" stroke-width="0.45"/><circle cx="595.3" cy="396.9" r="1.25" fill="#e2e2e2" stroke="#8a8a8a" stroke-width="0.45"/><circle cx="596.9" cy="400.3" r="1.25" fill="#e2e2e2" stroke="#8a8a8a" stroke-width="0.45"/><circle cx="597.4" cy="404.0" r="1.25" fill="#e2e2e2" stroke="#8a8a8a" stroke-width="0.45"/><circle cx="597.2" cy="406.7" r="1.25" fill="#e2e2e2" stroke="#8a8a8a" stroke-width="0.45"/><circle cx="597.2" cy="409.4" r="1.25" fill="#e2e2e2" stroke="#8a8a8a" stroke-width="0.45"/><circle cx="597.1" cy="412.1" r="1.25" fill="#e2e2e2" stroke="#8a8a8a" stroke-width="0.45"/><circle cx="597.0" cy="414.8" r="1.25" fill="#e2e2e2" stroke="#8a8a8a" stroke-width="0.45"/><circle cx="596.9" cy="417.5" r="1.25" fill="#e2e2e2" stroke="#8a8a8a" stroke-width="0.45"/><circle cx="596.8" cy="420.2" r="1.25" fill="#e2e2e2" stroke="#8a8a8a" stroke-width="0.45"/><circle cx="596.6" cy="422.9" r="1.25" fill="#e2e2e2" stroke="#8a8a8a" stroke-width="0.45"/><circle cx="596.4" cy="425.6" r="1.25" fill="#e2e2e2" stroke="#8a8a8a" stroke-width="0.45"/><circle cx="596.2" cy="428.3" r="1.25" fill="#e2e2e2" stroke="#8a8a8a" stroke-width="0.45"/><circle cx="596.0" cy="431.0" r="1.25" fill="#e2e2e2" stroke="#8a8a8a" stroke-width="0.45"/><circle cx="595.7" cy="433.7" r="1.25" fill="#e2e2e2" stroke="#8a8a8a" stroke-width="0.45"/><circle cx="595.4" cy="436.4" r="1.25" fill="#e2e2e2" stroke="#8a8a8a" stroke-width="0.45"/><circle cx="595.1" cy="439.1" r="1.25" fill="#e2e2e2" stroke="#8a8a8a" stroke-width="0.45"/><circle cx="594.8" cy="441.8" r="1.25" fill="#e2e2e2" stroke="#8a8a8a" stroke-width="0.45"/><circle cx="594.4" cy="444.5" r="1.25" fill="#e2e2e2" stroke="#8a8a8a" stroke-width="0.45"/>
<path d="M570.3,406 C570.3,398 575,395.1 581.5,395.1 C588,395.1 592.6,398 592.6,406 C592.6,416 589,425 587,432 C586,437 586,441 585.4,445 L577.5,445 C577,441 575,436 572.7,431.7 C571,425 570.3,415 570.3,406 Z" fill="#9c9c9c" stroke="#666" stroke-width="0.6"/>
<path d="M578,400 C580,412 582,425 581,444 M586,402 C585,410 584,420 583.5,430" stroke="#8c8c8c" stroke-width="0.7" fill="none"/>
<rect x="567" y="445.5" width="25.2" height="5" fill="#c4c4c4"/>
<rect x="567" y="450.9" width="25.2" height="6" fill="#686868"/>
<rect x="567" y="456.9" width="25.2" height="1.1" fill="#d8d8d8"/>
<rect x="567" y="458" width="25.2" height="6.6" fill="#6c6c6c"/>
<rect x="567" y="464.6" width="25.2" height="3" fill="#e2e2e2"/>
<rect x="583" y="388" width="6.4" height="5.5" fill="#e8e8e8" stroke="#333" stroke-width="0.7"/>
<path d="M585,446 L598.5,439 M588,448.3 H598.5 M592,457 L599.5,467" stroke="#444" stroke-width="0.6" fill="none"/>
<path d="M598.5,390.5 C610,389 621,393 628.5,399.5" stroke="url(#gArr2)" stroke-width="2.2" fill="none"/>
<path d="M624.5,393 L632,402.8 L619.5,399.6" stroke="#3a3a3a" stroke-width="1.5" fill="none"/>
<path d="M643,464 L643.3,456 C645.5,452 646,446 646,438 L647.2,402 C647.5,395 652,392.5 659.5,392.5 C667,392.5 671.5,395 672,402 L674,438 C674.2,446 676,452 679.5,456 L679.5,464 Z" fill="#d2d2d2" stroke="#8a8a8a" stroke-width="0.6"/>
<path d="M648.0,400.0 h5.8 M671.5,400.0 h-5.8 M648.0,402.1 h5.8 M671.6,402.1 h-5.8 M647.9,404.2 h5.8 M671.7,404.2 h-5.8 M647.9,406.3 h5.8 M671.7,406.3 h-5.8 M647.8,408.4 h5.8 M671.8,408.4 h-5.8 M647.8,410.5 h5.8 M671.9,410.5 h-5.8 M647.8,412.6 h5.8 M672.0,412.6 h-5.8 M647.7,414.7 h5.8 M672.0,414.7 h-5.8 M647.7,416.8 h5.8 M672.1,416.8 h-5.8 M647.7,418.9 h5.8 M672.2,418.9 h-5.8 M647.6,421.0 h5.8 M672.3,421.0 h-5.8 M647.6,423.1 h5.8 M672.3,423.1 h-5.8 M647.5,425.2 h5.8 M672.4,425.2 h-5.8 M647.5,427.3 h5.8 M672.5,427.3 h-5.8 M647.5,429.4 h5.8 M672.6,429.4 h-5.8 M647.4,431.5 h5.8 M672.6,431.5 h-5.8 M647.4,433.6 h5.8 M672.7,433.6 h-5.8 M647.4,435.7 h5.8 M672.8,435.7 h-5.8 M647.3,437.8 h5.8 M672.9,437.8 h-5.8 M647.3,439.9 h5.8 M673.0,439.9 h-5.8 M647.2,442.0 h5.8 M673.0,442.0 h-5.8 M647.2,444.1 h5.8 M673.1,444.1 h-5.8 M647.2,446.2 h5.8 M673.2,446.2 h-5.8 M647.1,448.3 h5.8 M673.3,448.3 h-5.8 M647.1,450.4 h5.8 M673.3,450.4 h-5.8 M647.0,452.5 h5.8 M673.4,452.5 h-5.8" stroke="#8e8e8e" stroke-width="0.75" fill="none"/>
<circle cx="644.0" cy="455.0" r="1.2" fill="#dadada" stroke="#8e8e8e" stroke-width="0.45"/><circle cx="644.8" cy="452.4" r="1.2" fill="#dadada" stroke="#8e8e8e" stroke-width="0.45"/><circle cx="645.5" cy="449.8" r="1.2" fill="#dadada" stroke="#8e8e8e" stroke-width="0.45"/><circle cx="646.0" cy="447.2" r="1.2" fill="#dadada" stroke="#8e8e8e" stroke-width="0.45"/><circle cx="646.4" cy="444.6" r="1.2" fill="#dadada" stroke="#8e8e8e" stroke-width="0.45"/><circle cx="646.6" cy="442.0" r="1.2" fill="#dadada" stroke="#8e8e8e" stroke-width="0.45"/><circle cx="646.6" cy="439.4" r="1.2" fill="#dadada" stroke="#8e8e8e" stroke-width="0.45"/><circle cx="646.6" cy="436.8" r="1.2" fill="#dadada" stroke="#8e8e8e" stroke-width="0.45"/><circle cx="646.6" cy="434.2" r="1.2" fill="#dadada" stroke="#8e8e8e" stroke-width="0.45"/><circle cx="646.6" cy="431.6" r="1.2" fill="#dadada" stroke="#8e8e8e" stroke-width="0.45"/><circle cx="646.6" cy="429.0" r="1.2" fill="#dadada" stroke="#8e8e8e" stroke-width="0.45"/><circle cx="646.6" cy="426.4" r="1.2" fill="#dadada" stroke="#8e8e8e" stroke-width="0.45"/><circle cx="646.6" cy="423.8" r="1.2" fill="#dadada" stroke="#8e8e8e" stroke-width="0.45"/><circle cx="646.6" cy="421.2" r="1.2" fill="#dadada" stroke="#8e8e8e" stroke-width="0.45"/><circle cx="646.6" cy="418.6" r="1.2" fill="#dadada" stroke="#8e8e8e" stroke-width="0.45"/><circle cx="646.6" cy="416.0" r="1.2" fill="#dadada" stroke="#8e8e8e" stroke-width="0.45"/><circle cx="646.6" cy="413.4" r="1.2" fill="#dadada" stroke="#8e8e8e" stroke-width="0.45"/><circle cx="646.6" cy="410.8" r="1.2" fill="#dadada" stroke="#8e8e8e" stroke-width="0.45"/><circle cx="646.6" cy="408.2" r="1.2" fill="#dadada" stroke="#8e8e8e" stroke-width="0.45"/><circle cx="646.6" cy="405.6" r="1.2" fill="#dadada" stroke="#8e8e8e" stroke-width="0.45"/><circle cx="646.6" cy="403.0" r="1.2" fill="#dadada" stroke="#8e8e8e" stroke-width="0.45"/><circle cx="646.9" cy="402.0" r="1.2" fill="#dadada" stroke="#8e8e8e" stroke-width="0.45"/><circle cx="647.5" cy="399.0" r="1.2" fill="#dadada" stroke="#8e8e8e" stroke-width="0.45"/><circle cx="649.3" cy="396.2" r="1.2" fill="#dadada" stroke="#8e8e8e" stroke-width="0.45"/><circle cx="652.1" cy="394.1" r="1.2" fill="#dadada" stroke="#8e8e8e" stroke-width="0.45"/><circle cx="655.6" cy="392.7" r="1.2" fill="#dadada" stroke="#8e8e8e" stroke-width="0.45"/><circle cx="659.5" cy="392.2" r="1.2" fill="#dadada" stroke="#8e8e8e" stroke-width="0.45"/><circle cx="663.4" cy="392.7" r="1.2" fill="#dadada" stroke="#8e8e8e" stroke-width="0.45"/><circle cx="666.9" cy="394.1" r="1.2" fill="#dadada" stroke="#8e8e8e" stroke-width="0.45"/><circle cx="669.7" cy="396.2" r="1.2" fill="#dadada" stroke="#8e8e8e" stroke-width="0.45"/><circle cx="671.5" cy="399.0" r="1.2" fill="#dadada" stroke="#8e8e8e" stroke-width="0.45"/><circle cx="672.1" cy="402.0" r="1.2" fill="#dadada" stroke="#8e8e8e" stroke-width="0.45"/><circle cx="672.4" cy="404.6" r="1.2" fill="#dadada" stroke="#8e8e8e" stroke-width="0.45"/><circle cx="672.6" cy="407.2" r="1.2" fill="#dadada" stroke="#8e8e8e" stroke-width="0.45"/><circle cx="672.7" cy="409.8" r="1.2" fill="#dadada" stroke="#8e8e8e" stroke-width="0.45"/><circle cx="672.8" cy="412.4" r="1.2" fill="#dadada" stroke="#8e8e8e" stroke-width="0.45"/><circle cx="672.9" cy="415.0" r="1.2" fill="#dadada" stroke="#8e8e8e" stroke-width="0.45"/><circle cx="673.1" cy="417.6" r="1.2" fill="#dadada" stroke="#8e8e8e" stroke-width="0.45"/><circle cx="673.2" cy="420.2" r="1.2" fill="#dadada" stroke="#8e8e8e" stroke-width="0.45"/><circle cx="673.3" cy="422.8" r="1.2" fill="#dadada" stroke="#8e8e8e" stroke-width="0.45"/><circle cx="673.5" cy="425.4" r="1.2" fill="#dadada" stroke="#8e8e8e" stroke-width="0.45"/><circle cx="673.6" cy="428.0" r="1.2" fill="#dadada" stroke="#8e8e8e" stroke-width="0.45"/><circle cx="673.7" cy="430.6" r="1.2" fill="#dadada" stroke="#8e8e8e" stroke-width="0.45"/><circle cx="673.9" cy="433.2" r="1.2" fill="#dadada" stroke="#8e8e8e" stroke-width="0.45"/><circle cx="674.0" cy="435.8" r="1.2" fill="#dadada" stroke="#8e8e8e" stroke-width="0.45"/><circle cx="674.1" cy="438.4" r="1.2" fill="#dadada" stroke="#8e8e8e" stroke-width="0.45"/><circle cx="674.3" cy="441.0" r="1.2" fill="#dadada" stroke="#8e8e8e" stroke-width="0.45"/><circle cx="674.6" cy="443.6" r="1.2" fill="#dadada" stroke="#8e8e8e" stroke-width="0.45"/><circle cx="675.3" cy="446.2" r="1.2" fill="#dadada" stroke="#8e8e8e" stroke-width="0.45"/><circle cx="676.2" cy="448.8" r="1.2" fill="#dadada" stroke="#8e8e8e" stroke-width="0.45"/><circle cx="677.3" cy="451.4" r="1.2" fill="#dadada" stroke="#8e8e8e" stroke-width="0.45"/><circle cx="678.7" cy="454.0" r="1.2" fill="#dadada" stroke="#8e8e8e" stroke-width="0.45"/>
<path d="M654.5,452 L654.8,405 C654.8,400 657,398 659.2,398 C661.4,398 663.5,400 663.5,405 L664.8,452 C667,456 672,458 676,459 L643,459 C647,458 652,456 654.5,452 Z" fill="#e6e6e6" stroke="#4a4a4a" stroke-width="0.7"/>
<path d="M655.5,408 L663,414 L655.5,421 L663.5,428 L655.5,435 L664,442 L655.5,449 M659.2,399 V453" stroke="#666" stroke-width="0.55" fill="none"/>
<path d="M643,459.5 C652,456 668,462 679.5,459 M645,462 C655,459.5 668,464 679,462" stroke="#7a7a7a" stroke-width="0.6" fill="none"/>
<rect x="660.8" y="395.9" width="6.8" height="6" fill="#c8c8c8" stroke="#333" stroke-width="0.7"/>
<path d="M639,425.5 L659.5,427" stroke="#444" stroke-width="0.6" fill="none"/>
<path d="M669.5,396 C683,395 693,399.5 700.5,406" stroke="url(#gArr3)" stroke-width="2.2" fill="none"/>
<path d="M698.3,400 L705.3,409 L694.5,406.8" stroke="#3a3a3a" stroke-width="1.5" fill="none"/>
<rect x="726.4" y="402.5" width="25.3" height="9" rx="2" fill="#e4e4e4"/>
<path d="M728,403 v6 M730.5,403 v6 M733,403 v6 M735.5,403 v6 M738,403 v6 M740.5,403 v6 M743,403 v6 M745.5,403 v6 M748,403 v6 M750.5,403 v6" stroke="#cfcfcf" stroke-width="0.7"/>
<rect x="726.4" y="408.5" width="25.9" height="35.5" rx="4.5" fill="url(#gCell)" stroke="#8e8e8e" stroke-width="0.9"/>
<ellipse cx="734.9" cy="417.5" rx="3.3" ry="2.3" fill="#8a8a8a"/>
<ellipse cx="743.3" cy="424.2" rx="2.8" ry="2.4" fill="#454545"/>
<ellipse cx="737.9" cy="437.4" rx="2.7" ry="2" fill="#858585"/>
<path d="M734,428 H748 M736,431 H746 M738,434 H745" stroke="#999" stroke-width="0.6"/>
<path d="M746.9,397 L739.7,406.7" stroke="#444" stroke-width="0.6" fill="none"/><rect x="35.5" y="32" width="29" height="19.6" fill="#d9d9d9"/>
<rect x="35.5" y="32" width="29" height="5" fill="#e6e6e6"/>
<path d="M41.5,41.8 L34.8,44.8 L34.8,50.5 L43,53.8" stroke="#8c8c8c" stroke-width="4" fill="none" stroke-linejoin="miter"/>
<path d="M31.5,54.6 L39.5,59.2" stroke="#8c8c8c" stroke-width="4.2"/>
<text x="42.3" y="49.3" font-family="Liberation Serif" font-style="italic" font-size="10" fill="#1a1a1a" stroke="#1a1a1a" stroke-width="0.2" transform="rotate(-5 50 46)" letter-spacing="0.7">230</text>
<rect x="754" y="32" width="29.9" height="19.3" fill="#d9d9d9"/>
<rect x="754" y="32" width="29.9" height="5" fill="#e6e6e6"/>
<path d="M777.5,42.3 L785,45.5 L785,50.5 L776,54.3" stroke="#8c8c8c" stroke-width="4" fill="none" stroke-linejoin="miter"/>
<path d="M779.4,59.1 L787.2,54.6" stroke="#8c8c8c" stroke-width="4.2"/>
<text x="760" y="48.8" font-family="Liberation Serif" font-style="italic" font-size="10" fill="#1a1a1a" stroke="#1a1a1a" stroke-width="0.25" transform="rotate(5 768 46)" letter-spacing="0.7">231</text></svg>
<div class="t" style="left:444.30px;width:200px;text-align:center;top:65.79px;font-size:7.1px;line-height:7.1px;color:#333;">Эмаль</div>
<div class="t" style="left:433.60px;width:200px;text-align:center;top:77.69px;font-size:7.1px;line-height:7.1px;color:#333;">Дентин</div>
<div class="t" style="left:439.00px;width:200px;text-align:center;top:87.09px;font-size:7.1px;line-height:7.1px;color:#333;">Полость</div>
<div class="t" style="left:438.80px;width:200px;text-align:center;top:93.89px;font-size:7.1px;line-height:7.1px;color:#333;">пульпы</div>
<div class="t" style="left:434.80px;width:200px;text-align:center;top:155.79px;font-size:7.1px;line-height:7.1px;color:#333;">Кость</div>
<div class="t" style="left:434.80px;width:200px;text-align:center;top:162.49px;font-size:7.1px;line-height:7.1px;color:#333;">Цемент</div>
<div class="t" style="left:433.00px;width:200px;text-align:center;top:175.29px;font-size:7.1px;line-height:7.1px;color:#333;">Нерв, кровь</div>
<div class="t" style="left:433.00px;width:200px;text-align:center;top:182.59px;font-size:7.1px;line-height:7.1px;color:#333;">и сосуды</div>
<div class="t" style="left:672.00px;top:75.42px;font-size:7.3px;line-height:7.3px;color:#333;">Коронка</div>
<div class="t" style="left:672.00px;top:107.12px;font-size:7.3px;line-height:7.3px;color:#333;">Шейка</div>
<div class="t" style="left:675.70px;top:147.82px;font-size:7.3px;line-height:7.3px;color:#333;">Корень</div>
<div class="t" style="left:567.60px;top:196.60px;font-size:8.15px;line-height:8.15px;color:#222;"><b>Рис. 3.32.</b> Строение зуба</div>
<div class="t" style="left:369.90px;width:200px;text-align:center;top:275.05px;font-size:6.5px;line-height:6.5px;color:#333;">Большие коренные</div>
<div class="t" style="left:427.85px;width:200px;text-align:center;top:275.05px;font-size:6.5px;line-height:6.5px;color:#333;">Малые</div>
<div class="t" style="left:427.85px;width:200px;text-align:center;top:283.00px;font-size:6.5px;line-height:6.5px;color:#333;">коренные</div>
<div class="t" style="left:457.50px;width:200px;text-align:center;top:275.05px;font-size:6.5px;line-height:6.5px;color:#333;">Клык</div>
<div class="t" style="left:509.00px;width:200px;text-align:center;top:275.05px;font-size:6.5px;line-height:6.5px;color:#333;">Резцы</div>
<div class="t" style="left:560.50px;width:200px;text-align:center;top:275.05px;font-size:6.5px;line-height:6.5px;color:#333;">Клык</div>
<div class="t" style="left:589.80px;width:200px;text-align:center;top:275.05px;font-size:6.5px;line-height:6.5px;color:#333;">Малые</div>
<div class="t" style="left:589.80px;width:200px;text-align:center;top:283.00px;font-size:6.5px;line-height:6.5px;color:#333;">коренные</div>
<div class="t" style="left:647.15px;width:200px;text-align:center;top:275.05px;font-size:6.5px;line-height:6.5px;color:#333;">Большие коренные</div>
<div class="t" style="left:556.40px;top:351.60px;font-size:8.15px;line-height:8.15px;color:#222;"><b>Рис. 3.33.</b> Зубная формула</div>
<div class="t" style="left:452.60px;top:379.21px;font-size:7.2px;line-height:7.2px;color:#333;">Тонкая кишка</div>
<div class="t" style="left:517.00px;top:412.41px;font-size:7.2px;line-height:7.2px;color:#333;">Серозная</div>
<div class="t" style="left:517.00px;top:419.91px;font-size:7.2px;line-height:7.2px;color:#333;">оболочка</div>
<div class="t" style="left:517.40px;top:427.61px;font-size:7.2px;line-height:7.2px;color:#333;">Продольная</div>
<div class="t" style="left:518.40px;top:434.81px;font-size:7.2px;line-height:7.2px;color:#333;">мышца</div>
<div class="t" style="left:515.00px;top:442.31px;font-size:7.2px;line-height:7.2px;color:#333;">Круговая</div>
<div class="t" style="left:515.80px;top:449.81px;font-size:7.2px;line-height:7.2px;color:#333;">мышца</div>
<div class="t" style="left:460.40px;top:466.81px;font-size:7.2px;line-height:7.2px;color:#333;">Слизистая оболочка</div>
<div class="t" style="left:553.10px;top:371.01px;font-size:7.2px;line-height:7.2px;color:#333;">Строение ворсинок</div>
<div class="t" style="left:553.10px;top:378.11px;font-size:7.2px;line-height:7.2px;color:#333;">тонкого кишечника</div>
<div class="t" style="left:643.80px;top:379.21px;font-size:7.2px;line-height:7.2px;color:#333;">Ворсинка</div>
<div class="t" style="left:604.10px;top:422.41px;font-size:7.2px;line-height:7.2px;color:#333;">Капилляр</div>
<div class="t" style="left:599.60px;top:437.21px;font-size:7.2px;line-height:7.2px;color:#333;">Артерия</div>
<div class="t" style="left:599.60px;top:444.41px;font-size:7.2px;line-height:7.2px;color:#333;">Лимфатические</div>
<div class="t" style="left:599.60px;top:451.51px;font-size:7.2px;line-height:7.2px;color:#333;">сосуды</div>
<div class="t" style="left:601.00px;top:464.71px;font-size:7.2px;line-height:7.2px;color:#333;">Вена</div>
<div class="t" style="left:639.30px;width:200px;text-align:center;top:370.81px;font-size:7.2px;line-height:7.2px;color:#333;">Эпителиальная</div>
<div class="t" style="left:639.30px;width:200px;text-align:center;top:378.11px;font-size:7.2px;line-height:7.2px;color:#333;">клетка</div>
<div class="t" style="left:648.40px;width:200px;text-align:center;top:388.81px;font-size:7.2px;line-height:7.2px;color:#333;">Микроворсинка</div>
<div class="t" style="left:537.30px;top:478.80px;font-size:8.15px;line-height:8.15px;color:#222;"><b>Рис. 3.34.</b> Строение ворсинки кишечника</div>
</body></html>
